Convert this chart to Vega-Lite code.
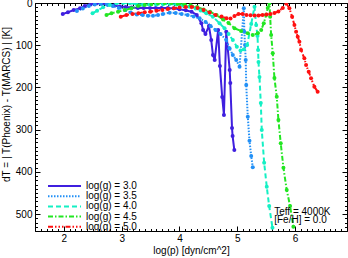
{
  "$schema": "https://vega.github.io/schema/vega-lite/v6.json",
  "width": 312,
  "height": 228,
  "autosize": {"type": "none"},
  "padding": {"left": 35, "top": 3, "right": 1, "bottom": 27},
  "background": "white",
  "config": {
    "view": {"stroke": "black", "strokeWidth": 1},
    "font": "Liberation Sans",
    "axis": {"grid": false, "domain": false, "tickColor": "black", "labelColor": "black", "titleColor": "black", "labelFont": "Liberation Sans", "titleFont": "Liberation Sans", "labelFontSize": 10, "titleFontSize": 10, "titleFontWeight": "normal", "tickWidth": 1, "labelFlush": false, "labelOverlap": false}
  },
  "datasets": {
    "series": [
      {"logg":"3.0","logp":1.98,"dT":26.1},{"logg":"3.0","logp":2.07,"dT":22.0},{"logg":"3.0","logp":2.17,"dT":16.6},{"logg":"3.0","logp":2.28,"dT":12.6},{"logg":"3.0","logp":2.36,"dT":7.1},{"logg":"3.0","logp":2.46,"dT":3.1},{"logg":"3.0","logp":2.56,"dT":0.7},{"logg":"3.0","logp":2.66,"dT":1.2},{"logg":"3.0","logp":2.76,"dT":3.6},{"logg":"3.0","logp":2.86,"dT":5.9},{"logg":"3.0","logp":2.97,"dT":8.3},{"logg":"3.0","logp":3.07,"dT":9.5},{"logg":"3.0","logp":3.17,"dT":10.7},{"logg":"3.0","logp":3.28,"dT":11.8},{"logg":"3.0","logp":3.38,"dT":11.8},{"logg":"3.0","logp":3.49,"dT":11.8},{"logg":"3.0","logp":3.59,"dT":11.8},{"logg":"3.0","logp":3.69,"dT":11.8},{"logg":"3.0","logp":3.80,"dT":11.8},{"logg":"3.0","logp":3.90,"dT":12.6},{"logg":"3.0","logp":4.00,"dT":14.9},{"logg":"3.0","logp":4.11,"dT":17.3},{"logg":"3.0","logp":4.21,"dT":20.6},{"logg":"3.0","logp":4.30,"dT":28.4},{"logg":"3.0","logp":4.38,"dT":48.1},{"logg":"3.0","logp":4.41,"dT":63.9},{"logg":"3.0","logp":4.45,"dT":73.4},{"logg":"3.0","logp":4.51,"dT":54.5},{"logg":"3.0","logp":4.55,"dT":87.6},{"logg":"3.0","logp":4.58,"dT":123.2},{"logg":"3.0","logp":4.61,"dT":135.0},{"logg":"3.0","logp":4.67,"dT":63.9},{"logg":"3.0","logp":4.70,"dT":149.2},{"logg":"3.0","logp":4.74,"dT":222.6},{"logg":"3.0","logp":4.77,"dT":265.3},{"logg":"3.0","logp":4.81,"dT":68.0},{"logg":"3.0","logp":4.87,"dT":158.7},{"logg":"3.0","logp":4.88,"dT":189.5},{"logg":"3.0","logp":4.91,"dT":296.1},{"logg":"3.0","logp":4.92,"dT":315.0},{"logg":"3.0","logp":4.95,"dT":348.2},
      {"logg":"3.5","logp":2.225,"dT":19.0},{"logg":"3.5","logp":2.328,"dT":13.0},{"logg":"3.5","logp":2.432,"dT":7.1},{"logg":"3.5","logp":2.535,"dT":3.6},{"logg":"3.5","logp":2.639,"dT":2.4},{"logg":"3.5","logp":2.743,"dT":3.6},{"logg":"3.5","logp":2.846,"dT":7.1},{"logg":"3.5","logp":2.950,"dT":11.8},{"logg":"3.5","logp":3.054,"dT":16.6},{"logg":"3.5","logp":3.157,"dT":22.5},{"logg":"3.5","logp":3.261,"dT":27.2},{"logg":"3.5","logp":3.364,"dT":28.4},{"logg":"3.5","logp":3.456,"dT":30.1},{"logg":"3.5","logp":3.542,"dT":30.1},{"logg":"3.5","logp":3.629,"dT":28.4},{"logg":"3.5","logp":3.715,"dT":26.1},{"logg":"3.5","logp":3.831,"dT":23.0},{"logg":"3.5","logp":3.934,"dT":23.7},{"logg":"3.5","logp":4.038,"dT":26.1},{"logg":"3.5","logp":4.142,"dT":28.4},{"logg":"3.5","logp":4.245,"dT":32.0},{"logg":"3.5","logp":4.349,"dT":36.2},{"logg":"3.5","logp":4.453,"dT":45.0},{"logg":"3.5","logp":4.539,"dT":54.5},{"logg":"3.5","logp":4.625,"dT":63.9},{"logg":"3.5","logp":4.712,"dT":73.4},{"logg":"3.5","logp":4.810,"dT":87.6},{"logg":"3.5","logp":4.867,"dT":107.3},{"logg":"3.5","logp":4.924,"dT":123.2},{"logg":"3.5","logp":4.983,"dT":135.0},{"logg":"3.5","logp":5.040,"dT":150.9},{"logg":"3.5","logp":5.114,"dT":12.6},{"logg":"3.5","logp":5.123,"dT":68.0},{"logg":"3.5","logp":5.135,"dT":99.5},{"logg":"3.5","logp":5.147,"dT":135.0},{"logg":"3.5","logp":5.156,"dT":194.2},{"logg":"3.5","logp":5.183,"dT":269.3},{"logg":"3.5","logp":5.212,"dT":326.1},{"logg":"3.5","logp":5.242,"dT":362.4},{"logg":"3.5","logp":5.269,"dT":389.1},
      {"logg":"4.0","logp":2.496,"dT":24.4},{"logg":"4.0","logp":2.575,"dT":18.2},{"logg":"4.0","logp":2.679,"dT":10.2},{"logg":"4.0","logp":2.794,"dT":4.7},{"logg":"4.0","logp":2.910,"dT":0.7},{"logg":"4.0","logp":3.024,"dT":0.0},{"logg":"4.0","logp":3.140,"dT":0.7},{"logg":"4.0","logp":3.256,"dT":2.4},{"logg":"4.0","logp":3.370,"dT":3.6},{"logg":"4.0","logp":3.485,"dT":3.6},{"logg":"4.0","logp":3.601,"dT":3.6},{"logg":"4.0","logp":3.715,"dT":3.1},{"logg":"4.0","logp":3.831,"dT":2.4},{"logg":"4.0","logp":3.946,"dT":3.6},{"logg":"4.0","logp":4.060,"dT":5.9},{"logg":"4.0","logp":4.176,"dT":8.8},{"logg":"4.0","logp":4.280,"dT":13.0},{"logg":"4.0","logp":4.366,"dT":17.8},{"logg":"4.0","logp":4.465,"dT":24.4},{"logg":"4.0","logp":4.579,"dT":32.4},{"logg":"4.0","logp":4.694,"dT":48.1},{"logg":"4.0","logp":4.781,"dT":59.9},{"logg":"4.0","logp":4.850,"dT":73.4},{"logg":"4.0","logp":4.924,"dT":87.6},{"logg":"4.0","logp":4.993,"dT":103.5},{"logg":"4.0","logp":5.057,"dT":112.5},{"logg":"4.0","logp":5.117,"dT":109.7},{"logg":"4.0","logp":5.173,"dT":99.5},{"logg":"4.0","logp":5.242,"dT":49.7},{"logg":"4.0","logp":5.299,"dT":8.8},{"logg":"4.0","logp":5.328,"dT":52.1},{"logg":"4.0","logp":5.351,"dT":78.2},{"logg":"4.0","logp":5.361,"dT":111.3},{"logg":"4.0","logp":5.368,"dT":139.7},{"logg":"4.0","logp":5.385,"dT":175.3},{"logg":"4.0","logp":5.408,"dT":236.9},{"logg":"4.0","logp":5.425,"dT":300.8},{"logg":"4.0","logp":5.466,"dT":378.2},{"logg":"4.0","logp":5.511,"dT":435.0},{"logg":"4.0","logp":5.553,"dT":480.8},{"logg":"4.0","logp":5.610,"dT":532.2},
      {"logg":"4.5","logp":2.737,"dT":28.4},{"logg":"4.5","logp":2.824,"dT":24.4},{"logg":"4.5","logp":2.938,"dT":20.6},{"logg":"4.5","logp":3.054,"dT":16.6},{"logg":"4.5","logp":3.169,"dT":12.6},{"logg":"4.5","logp":3.283,"dT":7.1},{"logg":"4.5","logp":3.399,"dT":4.7},{"logg":"4.5","logp":3.515,"dT":3.1},{"logg":"4.5","logp":3.629,"dT":0.7},{"logg":"4.5","logp":3.744,"dT":0.0},{"logg":"4.5","logp":3.857,"dT":0.0},{"logg":"4.5","logp":3.969,"dT":1.7},{"logg":"4.5","logp":4.081,"dT":3.6},{"logg":"4.5","logp":4.193,"dT":5.4},{"logg":"4.5","logp":4.306,"dT":9.5},{"logg":"4.5","logp":4.418,"dT":15.4},{"logg":"4.5","logp":4.530,"dT":20.6},{"logg":"4.5","logp":4.642,"dT":28.4},{"logg":"4.5","logp":4.755,"dT":39.1},{"logg":"4.5","logp":4.850,"dT":47.4},{"logg":"4.5","logp":4.953,"dT":59.9},{"logg":"4.5","logp":5.066,"dT":66.3},{"logg":"4.5","logp":5.183,"dT":71.8},{"logg":"4.5","logp":5.269,"dT":75.8},{"logg":"4.5","logp":5.356,"dT":71.8},{"logg":"4.5","logp":5.415,"dT":63.9},{"logg":"4.5","logp":5.459,"dT":48.1},{"logg":"4.5","logp":5.501,"dT":28.4},{"logg":"4.5","logp":5.528,"dT":11.8},{"logg":"4.5","logp":5.558,"dT":0.7},{"logg":"4.5","logp":5.570,"dT":32.4},{"logg":"4.5","logp":5.587,"dT":75.8},{"logg":"4.5","logp":5.615,"dT":119.1},{"logg":"4.5","logp":5.644,"dT":177.6},{"logg":"4.5","logp":5.684,"dT":221.9},{"logg":"4.5","logp":5.713,"dT":277.1},{"logg":"4.5","logp":5.753,"dT":332.3},{"logg":"4.5","logp":5.800,"dT":390.4},{"logg":"4.5","logp":5.857,"dT":442.9},{"logg":"4.5","logp":5.915,"dT":480.8},{"logg":"4.5","logp":5.972,"dT":529.8},
      {"logg":"5.0","logp":2.984,"dT":32.4},{"logg":"5.0","logp":3.083,"dT":28.4},{"logg":"5.0","logp":3.187,"dT":26.1},{"logg":"5.0","logp":3.290,"dT":24.4},{"logg":"5.0","logp":3.399,"dT":22.0},{"logg":"5.0","logp":3.497,"dT":20.6},{"logg":"5.0","logp":3.601,"dT":18.2},{"logg":"5.0","logp":3.705,"dT":16.6},{"logg":"5.0","logp":3.801,"dT":14.2},{"logg":"5.0","logp":3.905,"dT":12.6},{"logg":"5.0","logp":4.003,"dT":10.7},{"logg":"5.0","logp":4.107,"dT":9.5},{"logg":"5.0","logp":4.211,"dT":9.5},{"logg":"5.0","logp":4.314,"dT":11.8},{"logg":"5.0","logp":4.418,"dT":16.6},{"logg":"5.0","logp":4.522,"dT":22.5},{"logg":"5.0","logp":4.625,"dT":28.4},{"logg":"5.0","logp":4.729,"dT":32.0},{"logg":"5.0","logp":4.815,"dT":36.2},{"logg":"5.0","logp":4.884,"dT":36.7},{"logg":"5.0","logp":4.953,"dT":30.8},{"logg":"5.0","logp":5.022,"dT":26.1},{"logg":"5.0","logp":5.092,"dT":26.1},{"logg":"5.0","logp":5.161,"dT":28.4},{"logg":"5.0","logp":5.230,"dT":29.1},{"logg":"5.0","logp":5.299,"dT":29.6},{"logg":"5.0","logp":5.368,"dT":29.6},{"logg":"5.0","logp":5.437,"dT":28.4},{"logg":"5.0","logp":5.506,"dT":27.2},{"logg":"5.0","logp":5.575,"dT":26.1},{"logg":"5.0","logp":5.644,"dT":23.7},{"logg":"5.0","logp":5.713,"dT":20.1},{"logg":"5.0","logp":5.788,"dT":11.8},{"logg":"5.0","logp":5.851,"dT":0.7},{"logg":"5.0","logp":5.903,"dT":12.6},{"logg":"5.0","logp":5.950,"dT":32.4},{"logg":"5.0","logp":5.990,"dT":52.1},{"logg":"5.0","logp":6.019,"dT":68.0},{"logg":"5.0","logp":6.047,"dT":79.8},{"logg":"5.0","logp":6.076,"dT":91.7},{"logg":"5.0","logp":6.105,"dT":111.3},{"logg":"5.0","logp":6.162,"dT":131.0},{"logg":"5.0","logp":6.192,"dT":146.8},{"logg":"5.0","logp":6.237,"dT":162.7},{"logg":"5.0","logp":6.278,"dT":178.3},{"logg":"5.0","logp":6.335,"dT":198.2},{"logg":"5.0","logp":6.392,"dT":210.1}
    ],
    "notes": [
      {"note": "Teff = 4000K"}
    ],
    "notes2": [
      {"note": "[Fe/H] = 0.0"}
    ]
  },
  "resolve": {"axis": {"x": "independent", "y": "independent"}},
  "layer": [
    {
      "data": {"name": "series"},
      "mark": {"type": "line", "strokeWidth": 2, "clip": true},
      "encoding": {
        "x": {"field": "logp", "type": "quantitative",
          "scale": {"domain": [1.5, 6.9], "nice": false, "zero": false},
          "axis": {"orient": "bottom", "title": "log(p) [dyn/cm^2]", "tickCount": 5, "tickSize": -5, "labelPadding": 7, "titlePadding": 2}},
        "y": {"field": "dT", "type": "quantitative",
          "scale": {"domain": [0, 540], "nice": false, "zero": false, "reverse": true},
          "axis": {"orient": "left", "title": "dT = | T(Phoenix) - T(MARCS) | [K]", "titleY": 101, "tickCount": 5, "tickSize": -5, "labelPadding": 8, "titlePadding": 4}},
        "color": {"field": "logg", "type": "nominal",
          "scale": {"domain": ["3.0","3.5","4.0","4.5","5.0"], "range": ["#3f1fdf","#2290f6","#14f0c4","#22e622","#ff1010"]},
          "legend": {"orient": "none", "legendX": 12, "legendY": 178, "title": null, "symbolType": "M-1,0H7.25", "symbolSize": 64, "symbolStrokeWidth": 2, "labelFontSize": 10, "labelFont": "Liberation Sans", "labelColor": "black", "labelOffset": 29, "rowPadding": 0.2, "padding": 0, "labelExpr": "'log(g) = ' + datum.label"}},
        "strokeDash": {"field": "logg", "type": "nominal",
          "scale": {"domain": ["3.0","3.5","4.0","4.5","5.0"], "range": [[1,0],[1.5,1.5],[5,3],[5,2,1.5,2],[5,2,1.5,2,1.5,2,1.5,2]]},
          "legend": {"orient": "none", "legendX": 12, "legendY": 178, "title": null, "symbolType": "M-1,0H7.25", "symbolSize": 64, "symbolStrokeWidth": 2, "labelFontSize": 10, "labelFont": "Liberation Sans", "labelColor": "black", "labelOffset": 29, "rowPadding": 0.2, "padding": 0, "labelExpr": "'log(g) = ' + datum.label"}}
      }
    },
    {
      "data": {"name": "series"},
      "mark": {"type": "circle", "size": 16, "opacity": 1, "clip": true},
      "encoding": {
        "x": {"field": "logp", "type": "quantitative",
          "axis": {"orient": "bottom", "title": null, "labels": false, "tickCount": 54, "tickSize": -2.5}},
        "y": {"field": "dT", "type": "quantitative",
          "axis": {"orient": "left", "title": null, "labels": false, "tickCount": 54, "tickSize": -2.5}},
        "color": {"field": "logg", "type": "nominal", "legend": null}
      }
    },
    {
      "data": {"name": "notes"},
      "mark": {"type": "text", "align": "left", "baseline": "middle", "fontSize": 10, "font": "Liberation Sans", "color": "black"},
      "encoding": {
        "x": {"datum": 5.64, "type": "quantitative",
          "axis": {"orient": "top", "title": null, "labels": false, "tickCount": 5, "tickSize": -5}},
        "y": {"datum": 494, "type": "quantitative",
          "axis": {"orient": "right", "title": null, "labels": false, "tickCount": 5, "tickSize": -5}},
        "text": {"field": "note"}
      }
    },
    {
      "data": {"name": "notes2"},
      "mark": {"type": "text", "align": "left", "baseline": "middle", "fontSize": 10, "font": "Liberation Sans", "color": "black"},
      "encoding": {
        "x": {"datum": 5.64, "type": "quantitative",
          "axis": {"orient": "top", "title": null, "labels": false, "tickCount": 54, "tickSize": -2.5}},
        "y": {"datum": 514, "type": "quantitative",
          "axis": {"orient": "right", "title": null, "labels": false, "tickCount": 54, "tickSize": -2.5}},
        "text": {"field": "note"}
      }
    }
  ]
}
